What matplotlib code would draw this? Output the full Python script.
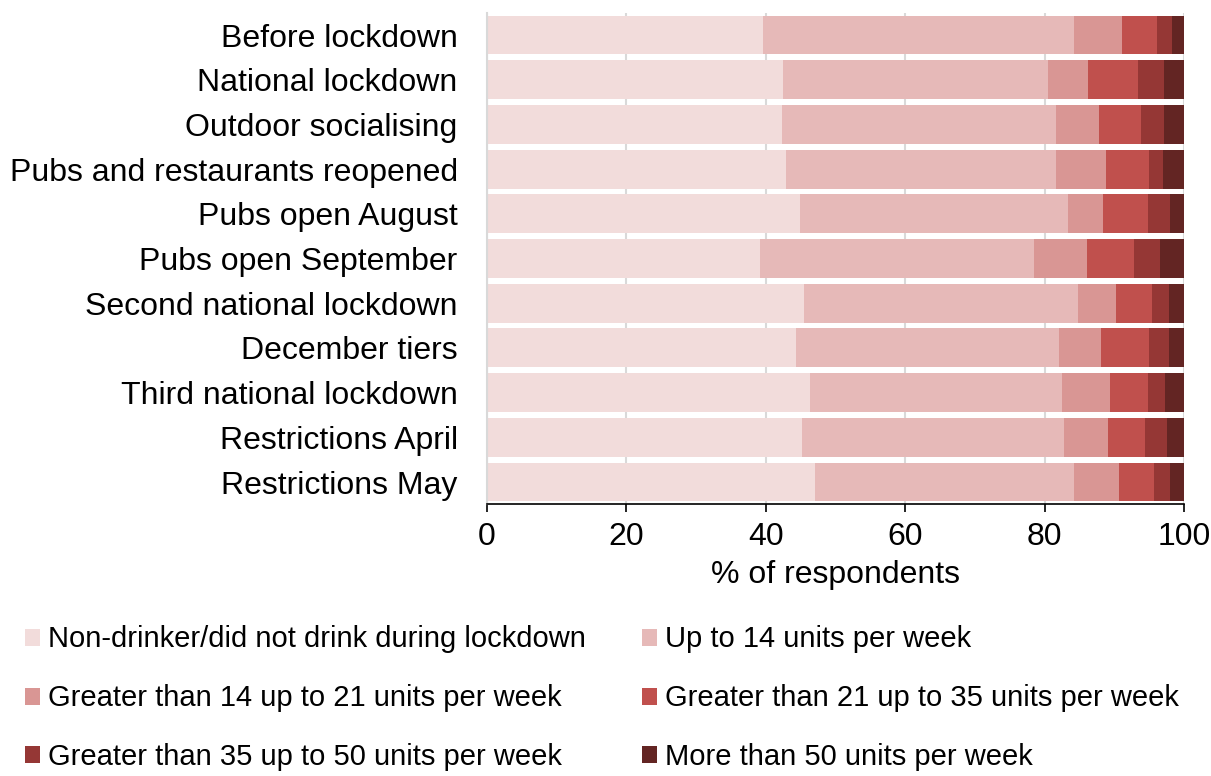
import matplotlib.pyplot as plt
from matplotlib.patches import Patch

plt.rcParams["font.family"] = ["Liberation Sans", "DejaVu Sans"]

periods = [
    "Before lockdown",
    "National lockdown",
    "Outdoor socialising",
    "Pubs and restaurants reopened",
    "Pubs open August",
    "Pubs open September",
    "Second national lockdown",
    "December tiers",
    "Third national lockdown",
    "Restrictions April",
    "Restrictions May",
]

categories = [
    "Non-drinker/did not drink during lockdown",
    "Up to 14 units per week",
    "Greater than 14 up to 21 units per week",
    "Greater than 21 up to 35 units per week",
    "Greater than 35 up to 50 units per week",
    "More than 50 units per week",
]

non_drinker = [39.6, 42.5, 42.3, 42.9, 44.9, 39.2, 45.4, 44.3, 46.3, 45.2, 47.1]
up_to_14 = [44.6, 38.0, 39.3, 38.7, 38.4, 39.3, 39.4, 37.8, 36.2, 37.5, 37.1]
from_14_to_21 = [6.9, 5.7, 6.2, 7.1, 5.1, 7.6, 5.4, 6.0, 6.9, 6.4, 6.5]
from_21_to_35 = [5.0, 7.2, 6.0, 6.3, 6.4, 6.7, 5.2, 6.9, 5.4, 5.3, 5.0]
from_35_to_50 = [2.2, 3.7, 3.3, 1.9, 3.2, 3.7, 2.4, 2.8, 2.4, 3.1, 2.3]
over_50 = [1.7, 2.9, 2.8, 3.0, 2.0, 3.4, 2.1, 2.2, 2.8, 2.5, 2.0]

colors = ["#F2DCDB", "#E6B9B8", "#D99694", "#C0504D", "#953735", "#632523"]

series = [non_drinker, up_to_14, from_14_to_21, from_21_to_35, from_35_to_50, over_50]

fig = plt.figure(figsize=(12.11, 7.76), dpi=100)
ax = fig.add_axes([0.402, 0.35, 0.576, 0.6337])

y = list(range(len(periods)))
left = [0.0] * len(periods)
for values, color, label in zip(series, colors, categories):
    ax.barh(y, values, left=left, height=0.87, color=color, label=label, zorder=2)
    left = [a + b for a, b in zip(left, values)]

ax.set_xlim(0, 100)
ax.set_ylim(len(periods) - 0.5, -0.5)
ax.set_yticks(y)
ax.set_yticklabels(periods, fontsize=23)
ax.set_xticks([0, 20, 40, 60, 80, 100])
ax.tick_params(axis="x", labelsize=23, length=5.5, width=1.2, color="black", pad=7)
ax.tick_params(axis="y", length=0, pad=21)
ax.set_xlabel("% of respondents", fontsize=23, labelpad=6)

ax.grid(axis="x", color="#D9D9D9", linewidth=1.5, zorder=0)
for side in ["top", "right"]:
    ax.spines[side].set_visible(False)
ax.spines["left"].set_color("#D9D9D9")
ax.spines["left"].set_linewidth(1.5)
ax.spines["bottom"].set_linewidth(1.2)

handles = [Patch(facecolor=c) for c in colors]
order = [0, 2, 4, 1, 3, 5]
fig.legend(
    [handles[i] for i in order],
    [categories[i] for i in order],
    loc="upper left",
    bbox_to_anchor=(0.011, 0.209),
    ncol=2,
    frameon=False,
    fontsize=21,
    handlelength=0.52,
    handleheight=0.52,
    handletextpad=0.28,
    labelspacing=1.06,
    columnspacing=1.9,
    borderaxespad=0,
)

fig.savefig("out.png", dpi=100)
